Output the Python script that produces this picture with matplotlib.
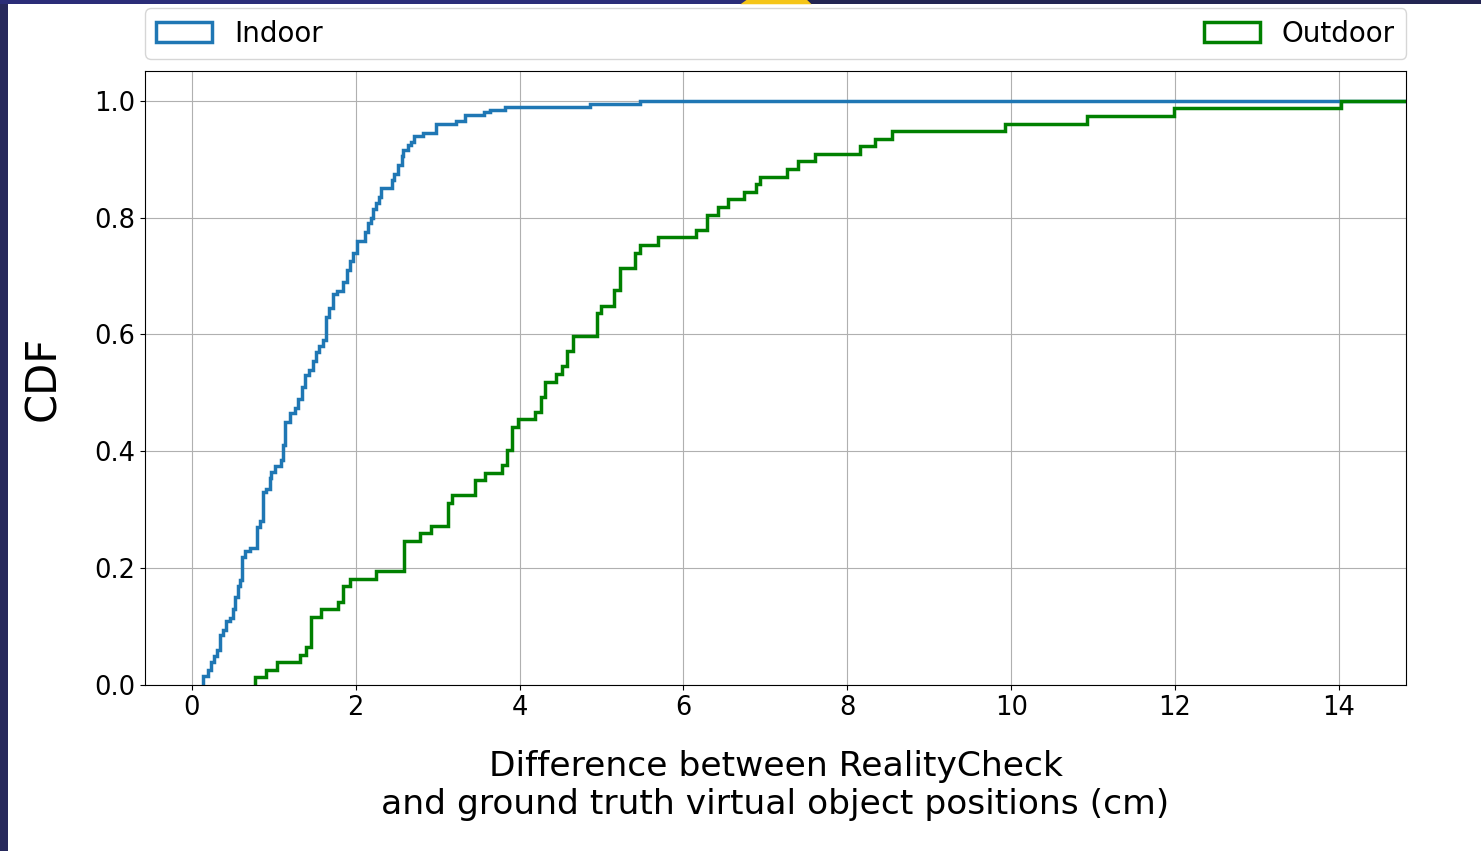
import numpy as np
import matplotlib
matplotlib.use('Agg')
import matplotlib.pyplot as plt
from matplotlib.patches import Rectangle, Polygon

# values where the CDF steps up, and how many samples sit at each step
indoor_x = [0.14, 0.20, 0.23, 0.27, 0.31, 0.34, 0.38, 0.42, 0.46, 0.50,
            0.53, 0.56, 0.59, 0.61, 0.65, 0.71, 0.79, 0.83, 0.87, 0.91,
            0.95, 0.97, 1.01, 1.09, 1.11, 1.14, 1.20, 1.26, 1.30, 1.34,
            1.38, 1.43, 1.48, 1.51, 1.55, 1.60, 1.64, 1.68, 1.72, 1.77,
            1.85, 1.89, 1.93, 1.97, 2.02, 2.11, 2.15, 2.19, 2.21, 2.25,
            2.29, 2.31, 2.44, 2.47, 2.52, 2.56, 2.58, 2.64, 2.68, 2.71,
            2.82, 2.98, 3.23, 3.33, 3.56, 3.64, 3.82, 4.86, 5.47]
indoor_n = [3, 2, 3, 2, 2, 5, 2, 3, 1, 3,
            4, 4, 2, 8, 2, 1, 7, 2, 10, 1,
            4, 2, 2, 2, 5, 8, 3, 2, 3, 4,
            4, 2, 3, 3, 2, 2, 8, 3, 5, 1,
            3, 4, 3, 3, 4, 3, 3, 2, 3, 2,
            2, 3, 3, 2, 3, 3, 2, 2, 1, 2,
            1, 3, 1, 2, 1, 1, 1, 1, 1]

outdoor_x = [0.77, 0.91, 1.04, 1.32, 1.39, 1.45, 1.58, 1.79, 1.85, 1.93,
             2.25, 2.59, 2.78, 2.92, 3.13, 3.18, 3.45, 3.58, 3.78, 3.85,
             3.91, 3.98, 4.19, 4.26, 4.31, 4.45, 4.52, 4.58, 4.65, 4.95,
             5.00, 5.15, 5.22, 5.41, 5.47, 5.69, 6.15, 6.29, 6.42, 6.55,
             6.74, 6.89, 6.93, 7.27, 7.40, 7.60, 8.15, 8.34, 8.54, 9.93,
             10.92, 11.99, 14.02]
outdoor_n = [1, 1, 1, 1, 1, 4, 1, 1, 2, 1,
             1, 4, 1, 1, 3, 1, 2, 1, 1, 2,
             3, 1, 1, 2, 2, 1, 1, 2, 2, 3,
             1, 2, 3, 2, 1, 1, 1, 2, 1, 1,
             1, 1, 1, 1, 1, 1, 1, 1, 1, 1,
             1, 1, 1]

labels = ['Indoor', 'Outdoor']
colors = ['#1f77b4', 'green']

indoor = np.repeat(indoor_x, indoor_n)
outdoor = np.repeat(outdoor_x, outdoor_n)

fig = plt.figure(figsize=(14.81, 8.51), dpi=100)
ax = fig.add_axes([0.098, 0.195, 0.8514, 0.7216])

for data, lab, c in zip([indoor, outdoor], labels, colors):
    # bins at every sample so the step hist is the ecdf, run past the x limit
    edges = np.append(np.unique(data), 16)
    ax.hist(data, bins=edges, cumulative=True, density=True,
            histtype='step', color=c, linewidth=2.5, label=lab)

ax.set_xlim(-0.57, 14.82)
ax.set_ylim(0, 1.051)
ax.set_xticks([0, 2, 4, 6, 8, 10, 12, 14])
ax.set_yticks([0.0, 0.2, 0.4, 0.6, 0.8, 1.0])
ax.tick_params(labelsize=18.5)
ax.grid(True)
ax.set_axisbelow(True)

ax.set_xlabel('Difference between RealityCheck\nand ground truth virtual object positions (cm)',
              fontsize=24.8, labelpad=21)
ax.set_ylabel('CDF', fontsize=30, labelpad=22)

ax.legend(bbox_to_anchor=(0, 1.02, 1, 0.2), loc='lower left', mode='expand',
          ncol=2, borderaxespad=0, fontsize=20)

# slide border from the screenshot
fig.patches.append(Rectangle((0, 0), 0.0055, 1, transform=fig.transFigure,
                             color='#27295c', linewidth=0, zorder=-1))
fig.patches.append(Rectangle((0, 0.995), 1, 0.005, transform=fig.transFigure,
                             color='#2b2d78', linewidth=0, zorder=-1))
fig.patches.append(Rectangle((0.545, 0.995), 0.455, 0.005, transform=fig.transFigure,
                             color='#232552', linewidth=0, zorder=-1))
fig.patches.append(Polygon([[0.500, 0.995], [0.548, 0.995], [0.545, 1.0], [0.504, 1.0]],
                           closed=True, transform=fig.transFigure,
                           facecolor='#f5c518', linewidth=0, zorder=-1))

fig.savefig('out.png', dpi=100)
